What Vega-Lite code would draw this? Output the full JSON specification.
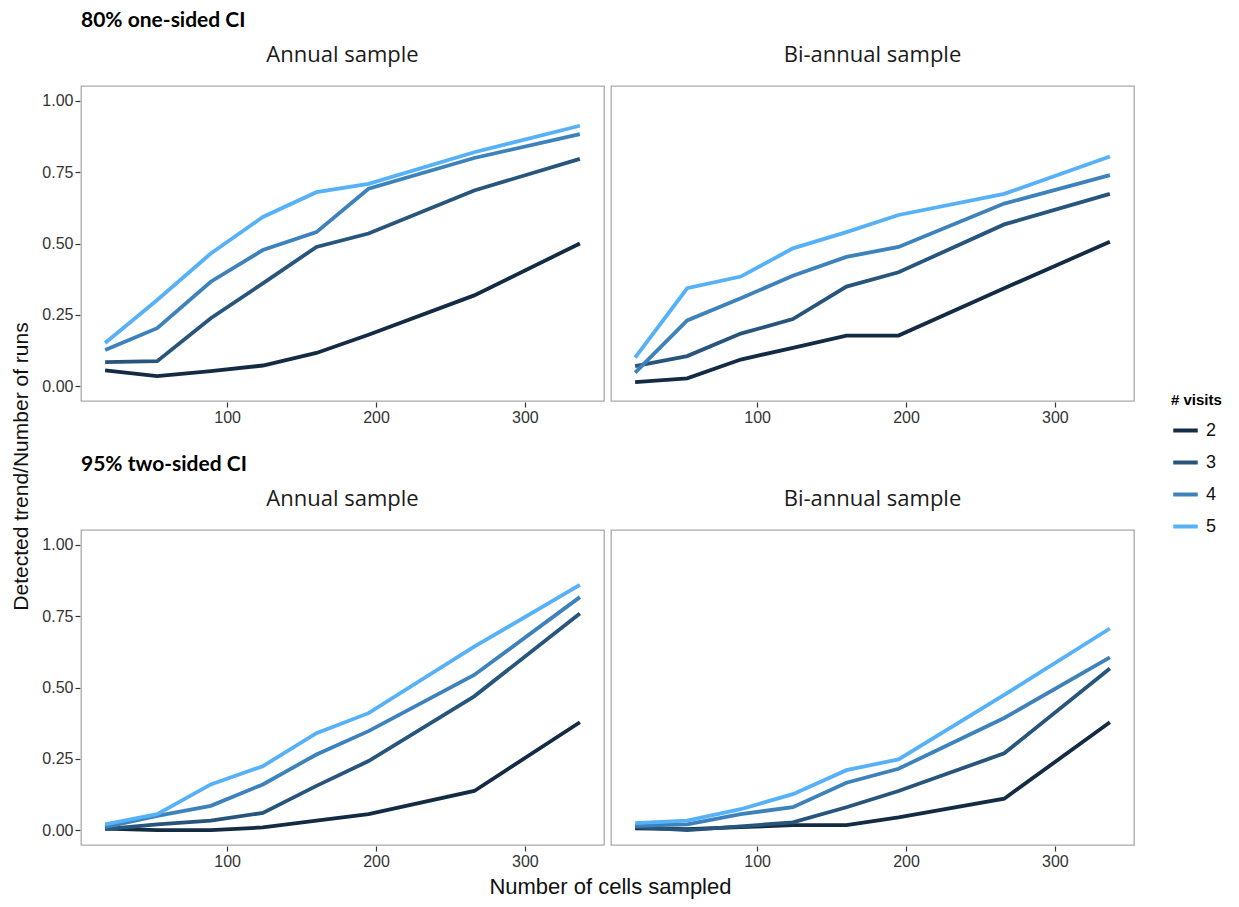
{
  "$schema": "https://vega.github.io/schema/vega-lite/v6.json",
  "background": "white",
  "padding": {"left": 10, "top": 10, "right": 5, "bottom": 4},
  "spacing": 444,
  "bounds": "flush",
  "title": {"text": "Number of cells sampled", "orient": "bottom", "anchor": "middle", "frame": "bounds", "font": "Liberation Sans", "fontSize": 22, "fontWeight": "normal", "color": "#111111", "offset": 8, "dx": -6},
  "config": {
    "font": "Liberation Sans",
    "view": {"stroke": "#aaaaaa", "strokeWidth": 1.3},
    "axis": {"domain": false, "grid": false, "tickColor": "#333333", "tickSize": 5, "tickWidth": 1.2, "labelFontSize": 16, "labelColor": "#333333", "labelPadding": 2, "titleFontSize": 21, "titleFontWeight": "normal", "titleColor": "#111111", "titlePadding": 10},
    "header": {"labelFont": "Open Sans", "labelFontSize": 22, "labelColor": "#1a1a1a", "labelPadding": 18, "title": null},
    "title": {"font": "Lato", "fontSize": 21, "fontWeight": "bold", "color": "#000000", "anchor": "start", "frame": "group", "offset": 13}
  },
  "data": {"values": [
    {"ci":"80","sample":"Annual sample","visits":2,"n":18,"rate":0.055},{"ci":"80","sample":"Annual sample","visits":2,"n":53,"rate":0.035},{"ci":"80","sample":"Annual sample","visits":2,"n":89,"rate":0.052},{"ci":"80","sample":"Annual sample","visits":2,"n":124,"rate":0.072},{"ci":"80","sample":"Annual sample","visits":2,"n":160,"rate":0.116},{"ci":"80","sample":"Annual sample","visits":2,"n":195,"rate":0.18},{"ci":"80","sample":"Annual sample","visits":2,"n":266,"rate":0.318},{"ci":"80","sample":"Annual sample","visits":2,"n":337,"rate":0.5},
    {"ci":"80","sample":"Annual sample","visits":3,"n":18,"rate":0.084},{"ci":"80","sample":"Annual sample","visits":3,"n":53,"rate":0.087},{"ci":"80","sample":"Annual sample","visits":3,"n":89,"rate":0.238},{"ci":"80","sample":"Annual sample","visits":3,"n":124,"rate":0.36},{"ci":"80","sample":"Annual sample","visits":3,"n":160,"rate":0.488},{"ci":"80","sample":"Annual sample","visits":3,"n":195,"rate":0.535},{"ci":"80","sample":"Annual sample","visits":3,"n":266,"rate":0.686},{"ci":"80","sample":"Annual sample","visits":3,"n":337,"rate":0.797},
    {"ci":"80","sample":"Annual sample","visits":4,"n":18,"rate":0.126},{"ci":"80","sample":"Annual sample","visits":4,"n":53,"rate":0.203},{"ci":"80","sample":"Annual sample","visits":4,"n":89,"rate":0.366},{"ci":"80","sample":"Annual sample","visits":4,"n":124,"rate":0.477},{"ci":"80","sample":"Annual sample","visits":4,"n":160,"rate":0.54},{"ci":"80","sample":"Annual sample","visits":4,"n":195,"rate":0.692},{"ci":"80","sample":"Annual sample","visits":4,"n":266,"rate":0.8},{"ci":"80","sample":"Annual sample","visits":4,"n":337,"rate":0.884},
    {"ci":"80","sample":"Annual sample","visits":5,"n":18,"rate":0.151},{"ci":"80","sample":"Annual sample","visits":5,"n":53,"rate":0.302},{"ci":"80","sample":"Annual sample","visits":5,"n":89,"rate":0.465},{"ci":"80","sample":"Annual sample","visits":5,"n":124,"rate":0.593},{"ci":"80","sample":"Annual sample","visits":5,"n":160,"rate":0.68},{"ci":"80","sample":"Annual sample","visits":5,"n":195,"rate":0.709},{"ci":"80","sample":"Annual sample","visits":5,"n":266,"rate":0.82},{"ci":"80","sample":"Annual sample","visits":5,"n":337,"rate":0.913},
    {"ci":"80","sample":"Bi-annual sample","visits":2,"n":18,"rate":0.014},{"ci":"80","sample":"Bi-annual sample","visits":2,"n":53,"rate":0.027},{"ci":"80","sample":"Bi-annual sample","visits":2,"n":89,"rate":0.093},{"ci":"80","sample":"Bi-annual sample","visits":2,"n":124,"rate":0.134},{"ci":"80","sample":"Bi-annual sample","visits":2,"n":160,"rate":0.177},{"ci":"80","sample":"Bi-annual sample","visits":2,"n":195,"rate":0.177},{"ci":"80","sample":"Bi-annual sample","visits":2,"n":266,"rate":0.343},{"ci":"80","sample":"Bi-annual sample","visits":2,"n":337,"rate":0.506},
    {"ci":"80","sample":"Bi-annual sample","visits":3,"n":18,"rate":0.07},{"ci":"80","sample":"Bi-annual sample","visits":3,"n":53,"rate":0.105},{"ci":"80","sample":"Bi-annual sample","visits":3,"n":89,"rate":0.184},{"ci":"80","sample":"Bi-annual sample","visits":3,"n":124,"rate":0.235},{"ci":"80","sample":"Bi-annual sample","visits":3,"n":160,"rate":0.349},{"ci":"80","sample":"Bi-annual sample","visits":3,"n":195,"rate":0.399},{"ci":"80","sample":"Bi-annual sample","visits":3,"n":266,"rate":0.567},{"ci":"80","sample":"Bi-annual sample","visits":3,"n":337,"rate":0.674},
    {"ci":"80","sample":"Bi-annual sample","visits":4,"n":18,"rate":0.047},{"ci":"80","sample":"Bi-annual sample","visits":4,"n":53,"rate":0.23},{"ci":"80","sample":"Bi-annual sample","visits":4,"n":89,"rate":0.308},{"ci":"80","sample":"Bi-annual sample","visits":4,"n":124,"rate":0.387},{"ci":"80","sample":"Bi-annual sample","visits":4,"n":160,"rate":0.453},{"ci":"80","sample":"Bi-annual sample","visits":4,"n":195,"rate":0.488},{"ci":"80","sample":"Bi-annual sample","visits":4,"n":266,"rate":0.64},{"ci":"80","sample":"Bi-annual sample","visits":4,"n":337,"rate":0.74},
    {"ci":"80","sample":"Bi-annual sample","visits":5,"n":18,"rate":0.1},{"ci":"80","sample":"Bi-annual sample","visits":5,"n":53,"rate":0.343},{"ci":"80","sample":"Bi-annual sample","visits":5,"n":89,"rate":0.384},{"ci":"80","sample":"Bi-annual sample","visits":5,"n":124,"rate":0.483},{"ci":"80","sample":"Bi-annual sample","visits":5,"n":160,"rate":0.54},{"ci":"80","sample":"Bi-annual sample","visits":5,"n":195,"rate":0.6},{"ci":"80","sample":"Bi-annual sample","visits":5,"n":266,"rate":0.674},{"ci":"80","sample":"Bi-annual sample","visits":5,"n":337,"rate":0.805},
    {"ci":"95","sample":"Annual sample","visits":2,"n":18,"rate":0.005},{"ci":"95","sample":"Annual sample","visits":2,"n":53,"rate":0.0},{"ci":"95","sample":"Annual sample","visits":2,"n":89,"rate":0.0},{"ci":"95","sample":"Annual sample","visits":2,"n":124,"rate":0.009},{"ci":"95","sample":"Annual sample","visits":2,"n":160,"rate":0.033},{"ci":"95","sample":"Annual sample","visits":2,"n":195,"rate":0.056},{"ci":"95","sample":"Annual sample","visits":2,"n":266,"rate":0.137},{"ci":"95","sample":"Annual sample","visits":2,"n":337,"rate":0.378},
    {"ci":"95","sample":"Annual sample","visits":3,"n":18,"rate":0.003},{"ci":"95","sample":"Annual sample","visits":3,"n":53,"rate":0.02},{"ci":"95","sample":"Annual sample","visits":3,"n":89,"rate":0.033},{"ci":"95","sample":"Annual sample","visits":3,"n":124,"rate":0.06},{"ci":"95","sample":"Annual sample","visits":3,"n":160,"rate":0.155},{"ci":"95","sample":"Annual sample","visits":3,"n":195,"rate":0.242},{"ci":"95","sample":"Annual sample","visits":3,"n":266,"rate":0.469},{"ci":"95","sample":"Annual sample","visits":3,"n":337,"rate":0.76},
    {"ci":"95","sample":"Annual sample","visits":4,"n":18,"rate":0.01},{"ci":"95","sample":"Annual sample","visits":4,"n":53,"rate":0.05},{"ci":"95","sample":"Annual sample","visits":4,"n":89,"rate":0.085},{"ci":"95","sample":"Annual sample","visits":4,"n":124,"rate":0.16},{"ci":"95","sample":"Annual sample","visits":4,"n":160,"rate":0.265},{"ci":"95","sample":"Annual sample","visits":4,"n":195,"rate":0.347},{"ci":"95","sample":"Annual sample","visits":4,"n":266,"rate":0.544},{"ci":"95","sample":"Annual sample","visits":4,"n":337,"rate":0.817},
    {"ci":"95","sample":"Annual sample","visits":5,"n":18,"rate":0.02},{"ci":"95","sample":"Annual sample","visits":5,"n":53,"rate":0.056},{"ci":"95","sample":"Annual sample","visits":5,"n":89,"rate":0.16},{"ci":"95","sample":"Annual sample","visits":5,"n":124,"rate":0.224},{"ci":"95","sample":"Annual sample","visits":5,"n":160,"rate":0.34},{"ci":"95","sample":"Annual sample","visits":5,"n":195,"rate":0.41},{"ci":"95","sample":"Annual sample","visits":5,"n":266,"rate":0.643},{"ci":"95","sample":"Annual sample","visits":5,"n":337,"rate":0.86},
    {"ci":"95","sample":"Bi-annual sample","visits":2,"n":18,"rate":0.006},{"ci":"95","sample":"Bi-annual sample","visits":2,"n":53,"rate":0.003},{"ci":"95","sample":"Bi-annual sample","visits":2,"n":89,"rate":0.01},{"ci":"95","sample":"Bi-annual sample","visits":2,"n":124,"rate":0.017},{"ci":"95","sample":"Bi-annual sample","visits":2,"n":160,"rate":0.017},{"ci":"95","sample":"Bi-annual sample","visits":2,"n":195,"rate":0.044},{"ci":"95","sample":"Bi-annual sample","visits":2,"n":266,"rate":0.11},{"ci":"95","sample":"Bi-annual sample","visits":2,"n":337,"rate":0.378},
    {"ci":"95","sample":"Bi-annual sample","visits":3,"n":18,"rate":0.01},{"ci":"95","sample":"Bi-annual sample","visits":3,"n":53,"rate":0.0},{"ci":"95","sample":"Bi-annual sample","visits":3,"n":89,"rate":0.013},{"ci":"95","sample":"Bi-annual sample","visits":3,"n":124,"rate":0.027},{"ci":"95","sample":"Bi-annual sample","visits":3,"n":160,"rate":0.08},{"ci":"95","sample":"Bi-annual sample","visits":3,"n":195,"rate":0.137},{"ci":"95","sample":"Bi-annual sample","visits":3,"n":266,"rate":0.269},{"ci":"95","sample":"Bi-annual sample","visits":3,"n":337,"rate":0.567},
    {"ci":"95","sample":"Bi-annual sample","visits":4,"n":18,"rate":0.015},{"ci":"95","sample":"Bi-annual sample","visits":4,"n":53,"rate":0.02},{"ci":"95","sample":"Bi-annual sample","visits":4,"n":89,"rate":0.056},{"ci":"95","sample":"Bi-annual sample","visits":4,"n":124,"rate":0.08},{"ci":"95","sample":"Bi-annual sample","visits":4,"n":160,"rate":0.166},{"ci":"95","sample":"Bi-annual sample","visits":4,"n":195,"rate":0.215},{"ci":"95","sample":"Bi-annual sample","visits":4,"n":266,"rate":0.393},{"ci":"95","sample":"Bi-annual sample","visits":4,"n":337,"rate":0.606},
    {"ci":"95","sample":"Bi-annual sample","visits":5,"n":18,"rate":0.024},{"ci":"95","sample":"Bi-annual sample","visits":5,"n":53,"rate":0.033},{"ci":"95","sample":"Bi-annual sample","visits":5,"n":89,"rate":0.073},{"ci":"95","sample":"Bi-annual sample","visits":5,"n":124,"rate":0.126},{"ci":"95","sample":"Bi-annual sample","visits":5,"n":160,"rate":0.21},{"ci":"95","sample":"Bi-annual sample","visits":5,"n":195,"rate":0.248},{"ci":"95","sample":"Bi-annual sample","visits":5,"n":266,"rate":0.474},{"ci":"95","sample":"Bi-annual sample","visits":5,"n":337,"rate":0.707}
  ]},
  "vconcat": [
    {
      "title": {"text": "80% one-sided CI"},
      "transform": [{"filter": "datum.ci == '80'"}],
      "facet": {"column": {"field": "sample", "type": "nominal", "sort": ["Annual sample", "Bi-annual sample"], "header": {"title": null}}},
      "spacing": 5,
      "spec": {
        "width": 523, "height": 315,
        "mark": {"type": "line", "strokeWidth": 3.8},
        "encoding": {
          "x": {"field": "n", "type": "quantitative", "scale": {"domain": [1.8, 353.2], "nice": false, "zero": false}, "axis": {"values": [100, 200, 300], "title": null}},
          "y": {"field": "rate", "type": "quantitative", "scale": {"domain": [-0.0525, 1.0525], "nice": false, "zero": false}, "axis": {"values": [0, 0.25, 0.5, 0.75, 1], "format": ".2f", "title": "Detected trend/Number of runs", "titleY": 380}},
          "color": {"field": "visits", "type": "ordinal", "scale": {"domain": [2, 3, 4, 5], "range": ["#132B43", "#28557C", "#3D82BA", "#56B1F7"]},
            "legend": {"title": "# visits", "orient": "none", "legendX": 1090, "legendY": 307, "titleFontSize": 15, "titleFontWeight": "bold", "titleColor": "#000000", "titlePadding": 8, "labelFontSize": 18, "labelColor": "#111111", "labelOffset": 6, "symbolType": "stroke", "symbolStrokeWidth": 4, "symbolSize": 600, "rowPadding": 8}}
        }
      }
    },
    {
      "title": {"text": "95% two-sided CI"},
      "transform": [{"filter": "datum.ci == '95'"}],
      "facet": {"column": {"field": "sample", "type": "nominal", "sort": ["Annual sample", "Bi-annual sample"], "header": {"title": null}}},
      "spacing": 5,
      "spec": {
        "width": 523, "height": 315,
        "mark": {"type": "line", "strokeWidth": 3.8},
        "encoding": {
          "x": {"field": "n", "type": "quantitative", "scale": {"domain": [1.8, 353.2], "nice": false, "zero": false}, "axis": {"values": [100, 200, 300], "title": null}},
          "y": {"field": "rate", "type": "quantitative", "scale": {"domain": [-0.0525, 1.0525], "nice": false, "zero": false}, "axis": {"values": [0, 0.25, 0.5, 0.75, 1], "format": ".2f", "title": null}},
          "color": {"field": "visits", "type": "ordinal", "scale": {"domain": [2, 3, 4, 5], "range": ["#132B43", "#28557C", "#3D82BA", "#56B1F7"]}}
        }
      }
    }
  ]
}
